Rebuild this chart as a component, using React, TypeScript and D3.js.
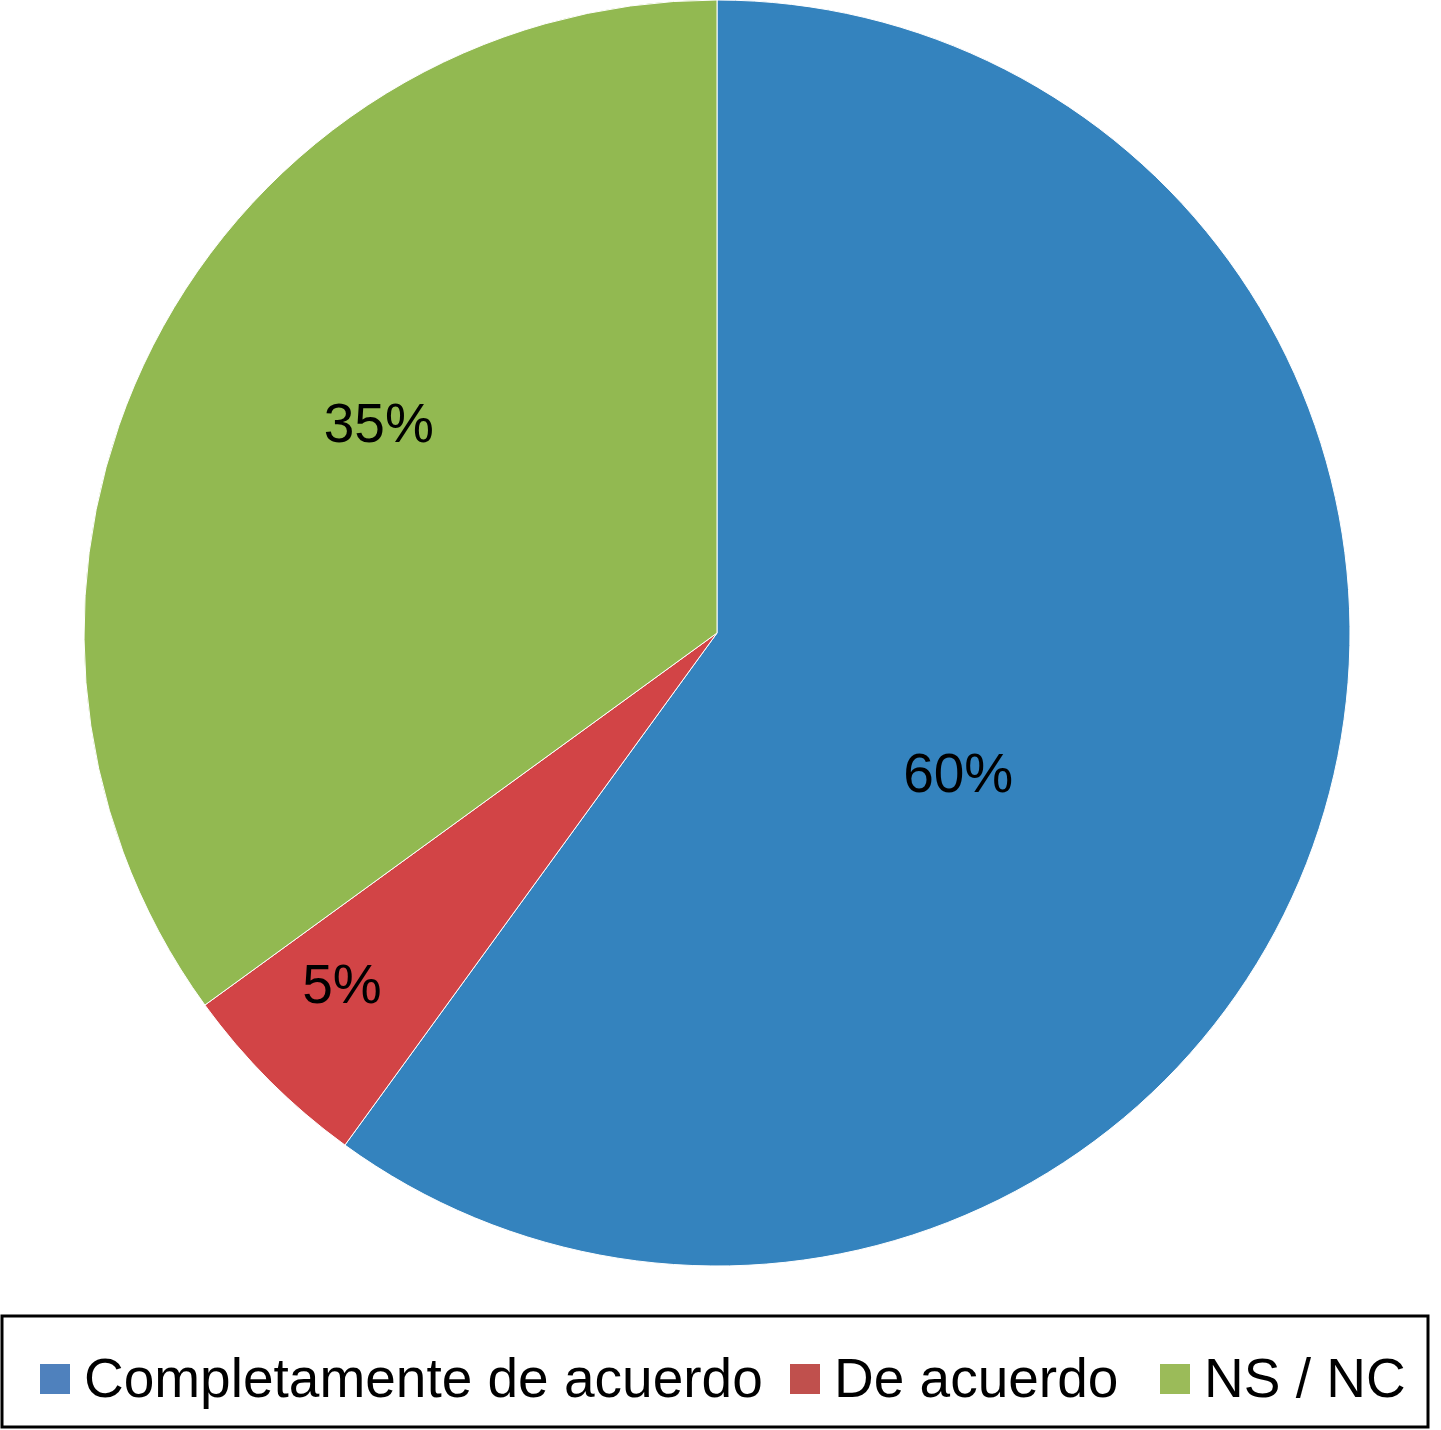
import React from 'react';
import * as d3 from 'd3';

const categories = ['Completamente de acuerdo', 'De acuerdo', 'NS / NC'];
const values = [60, 5, 35];
const labels = ['60%', '5%', '35%'];
const sliceColors = ['#3483BE', '#D24446', '#92B951'];
const legendColors = ['#4F81BD', '#C0504D', '#9BBB59'];

const W = 1441;
const H = 1430;
const cx = 717;
const cy = 633;
const radius = 633;

// where Excel put the data labels (fraction of radius, angle nudge in degrees)
const labelRadius = [0.44, 0.81, 0.63];
const labelNudge = [12, 2, 5];

// legend item x positions (swatch left edge)
const legendX = [40, 790, 1160];

export default function App() {
  const pie = d3.pie<number>().sort(null).value(d => d);
  const arcs = pie(values);
  const arc = d3.arc<d3.PieArcDatum<number>>().innerRadius(0).outerRadius(radius);

  return (
    <svg width={W} height={H} style={{ position: 'absolute', left: 0, top: 0, background: '#fff' }}>
      <g transform={`translate(${cx},${cy})`}>
        {arcs.map((a, i) => (
          <path key={i} d={arc(a) || ''} fill={sliceColors[i]} stroke="#fff" strokeWidth={1} />
        ))}
        {arcs.map((a, i) => {
          const mid = (a.startAngle + a.endAngle) / 2 + (labelNudge[i] * Math.PI) / 180;
          const r = radius * labelRadius[i];
          const x = Math.sin(mid) * r;
          const y = -Math.cos(mid) * r;
          return (
            <text
              key={i}
              x={x}
              y={y + 20}
              textAnchor="middle"
              fontFamily="Liberation Sans, Arial, sans-serif"
              fontSize={55}
              fill="#000"
            >
              {labels[i]}
            </text>
          );
        })}
      </g>
      <rect x={2} y={1316} width={1426} height={111} fill="none" stroke="#000" strokeWidth={3} />
      {categories.map((c, i) => (
        <g key={c} transform={`translate(${legendX[i]},0)`}>
          <rect x={0} y={1364} width={30} height={30} fill={legendColors[i]} />
          <text
            x={44}
            y={1397}
            fontFamily="Liberation Sans, Arial, sans-serif"
            fontSize={55}
            fill="#000"
          >
            {c}
          </text>
        </g>
      ))}
    </svg>
  );
}
